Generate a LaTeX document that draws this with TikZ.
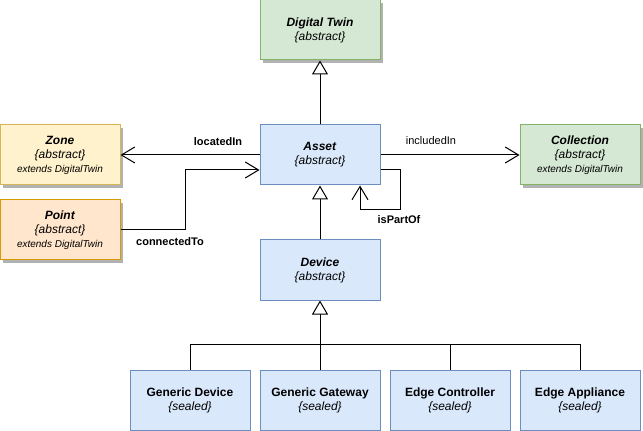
\documentclass[tikz,border=0pt]{standalone}
\usepackage{fontspec}
\setmainfont{Liberation Sans}
\usetikzlibrary{arrows.meta,shadows,calc}

\definecolor{greenfill}{HTML}{D5E8D4}
\definecolor{greenline}{HTML}{82B366}
\definecolor{bluefill}{HTML}{DAE8FC}
\definecolor{blueline}{HTML}{6C8EBF}
\definecolor{yellowfill}{HTML}{FFF2CC}
\definecolor{yellowline}{HTML}{D6B656}
\definecolor{orangefill}{HTML}{FFE6CC}
\definecolor{orangeline}{HTML}{D79B00}

\tikzset{every picture/.style={line width=0.75pt}}
\tikzset{
  classbox/.style={rectangle, minimum width=90pt, minimum height=45pt, inner sep=0pt,
    align=center, font=\fontsize{9}{10.5}\selectfont},
  shadowed/.style={drop shadow={shadow xshift=2.25pt, shadow yshift=-2.25pt, fill=black!30, opacity=1}},
  greenbox/.style={classbox, shadowed, fill=greenfill, draw=greenline},
  bluebox/.style={classbox, fill=bluefill, draw=blueline},
  yellowbox/.style={classbox, shadowed, fill=yellowfill, draw=yellowline},
  orangebox/.style={classbox, shadowed, fill=orangefill, draw=orangeline},
  inherit/.style={-{Triangle[open, fill=white, length=10.5pt, width=12pt]}},
  assoc/.style={-{Straight Barb[length=10pt, width=12pt]}},
  edgelabel/.style={inner sep=0.75pt, font=\fontsize{8.25}{10}\selectfont}
}
\newcommand{\extendsline}{\\{\fontsize{7.5}{10.5}\selectfont\itshape extends DigitalTwin}}

\begin{document}
\begin{tikzpicture}[x=0.75pt,y=0.75pt,yscale=-1,xscale=1]
	\useasboundingbox (0,0) rectangle (643,431);

	%Shape: Rectangle
	\node[greenbox] (twin) at (320,30) {\textbf{\textit{Digital Twin}}\\\textit{\{abstract\}}};
	%Shape: Rectangle
	\node[bluebox] (asset) at (320,155) {\textbf{\textit{Asset}}\\\textit{\{abstract\}}};
	%Shape: Rectangle
	\node[yellowbox] (zone) at (60,155) {\textbf{\textit{Zone}}\\\textit{\{abstract\}}\extendsline};
	%Shape: Rectangle
	\node[orangebox] (point) at (60,230) {\textbf{\textit{Point}}\\\textit{\{abstract\}}\extendsline};
	%Shape: Rectangle
	\node[greenbox] (collection) at (580,155) {\textbf{\textit{Collection}}\\\textit{\{abstract\}}\extendsline};
	%Shape: Rectangle
	\node[bluebox] (device) at (320,270) {\textbf{\textit{Device}}\\\textit{\{abstract\}}};
	%Shape: Rectangle
	\node[bluebox] (genDevice) at (190,400) {\textbf{Generic Device}\\\textit{\{sealed\}}};
	%Shape: Rectangle
	\node[bluebox] (genGateway) at (320,400) {\textbf{Generic Gateway}\\\textit{\{sealed\}}};
	%Shape: Rectangle
	\node[bluebox] (edgeCtrl) at (450,400) {\textbf{Edge Controller}\\\textit{\{sealed\}}};
	%Shape: Rectangle
	\node[bluebox] (edgeAppl) at (580,400) {\textbf{Edge Appliance}\\\textit{\{sealed\}}};

	%Straight Lines
	\draw [inherit] (asset) -- (twin) ;
	%Straight Lines
	\draw [assoc] (asset) -- (zone) ;
	%Straight Lines
	\draw [assoc] (asset) -- (collection) ;
	%Connector Lines
	\draw [assoc] (point.east) -- ++(65,0) |- ($(asset.west)+(0,15)$) ;
	%Connector Lines
	\draw [assoc] ($(asset.east)+(0,15)$) -- ++(20,0) -- ++(0,40) -| ($(asset.south)+(40,0)$) ;
	%Straight Lines
	\draw [inherit] (device) -- (asset) ;
	%Connector Lines
	\draw [inherit] (genGateway) -- (device) ;
	\draw (genDevice.north) -- ++(0,-25) -| (edgeAppl.north) ;
	\draw (edgeCtrl.north) -- ++(0,-25) ;

	% Text Node
	\node[edgelabel] (locatedLbl) at (218,142) {\textbf{locatedIn}};
	% Text Node
	\node[edgelabel] (includedLbl) at (431,141) {includedIn};
	% Text Node
	\node[edgelabel] (connectedLbl) at (170,242) {\textbf{connectedTo}};
	% Text Node
	\node[edgelabel] (partOfLbl) at (399,220) {\textbf{isPartOf}};

\end{tikzpicture}
\end{document}
